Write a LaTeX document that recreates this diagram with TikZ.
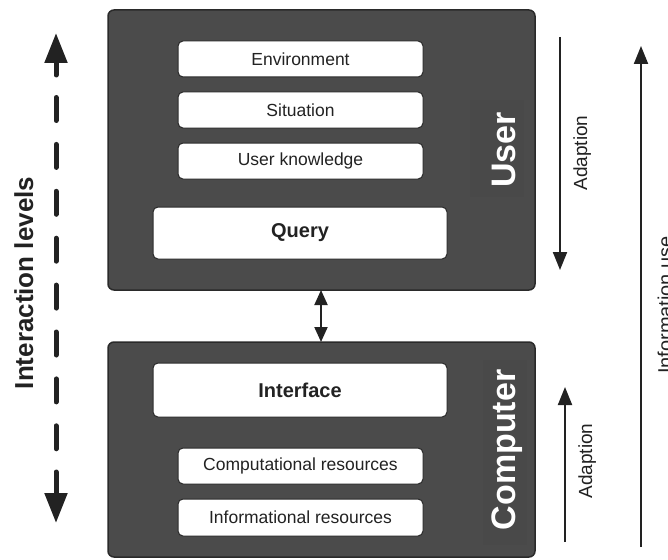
\documentclass[tikz,border=0pt]{standalone}
\usepackage{fontspec}
\setmainfont{Liberation Sans}
\usetikzlibrary{arrows.meta}
\definecolor{boxgray}{HTML}{4B4B4B}
\definecolor{labelgray}{HTML}{494949}
\definecolor{edgegray}{HTML}{2A2A2A}
\definecolor{inkc}{HTML}{222222}
\tikzset{
  bigbox/.style={draw=edgegray, fill=boxgray, line width=1.5pt, rounded corners=6pt, inner sep=0pt},
  itembox/.style={draw=edgegray, fill=white, line width=1pt, rounded corners=5pt, inner sep=0pt,
    font=\fontsize{17.5}{20}\selectfont, text=inkc},
  bolditem/.style={itembox, font=\fontsize{20}{24}\selectfont\bfseries},
  sidelabel/.style={rotate=90, anchor=base, inner sep=0pt, text=white,
    font=\fontsize{34}{40}\selectfont\bfseries},
  arrowlabel/.style={rotate=90, anchor=base, inner sep=0pt, text=inkc,
    font=\fontsize{19}{22}\selectfont},
  thinarrow/.style={draw=inkc, line width=2pt, -{Triangle[length=18pt,width=14pt]}},
  midarrow/.style={draw=inkc, line width=2pt, {Triangle[length=15pt,width=13pt]}-{Triangle[length=15pt,width=13pt]}},
  fatarrow/.style={draw=inkc, line width=5pt, line cap=round, -{Triangle[length=30pt,width=22pt]}},
  fatdash/.style={draw=inkc, line width=5pt, line cap=round, dash pattern=on 23pt off 23.9pt},
}
\begin{document}
\begin{tikzpicture}[x=1pt,y=-1pt]
\useasboundingbox (0,0) rectangle (668,559);
% big boxes
\node[bigbox, minimum width=427pt, minimum height=280pt] (user) at (321.5,150) {};
\node[bigbox, minimum width=427pt, minimum height=215pt] (comp) at (321.5,449.5) {};
% subtle label backgrounds
\fill[labelgray] (470,100) rectangle (524,197);
\fill[labelgray] (483,360) rectangle (527,545);
% user items
\node[itembox, minimum width=245pt, minimum height=36pt] (env) at (300.5,59) {Environment};
\node[itembox, minimum width=245pt, minimum height=36pt] (sit) at (300.5,110) {Situation};
\node[itembox, minimum width=245pt, minimum height=36pt] (know) at (300.5,161) {User knowledge};
\node[bolditem, minimum width=294pt, minimum height=52pt] (query) at (300,233) {Query};
% computer items
\node[bolditem, minimum width=294pt, minimum height=54pt] (iface) at (300,390) {Interface};
\node[itembox, minimum width=245pt, minimum height=36pt] (compres) at (300.5,466) {Computational resources};
\node[itembox, minimum width=245pt, minimum height=37pt] (infres) at (300.5,517.5) {Informational resources};
% side labels
\node[sidelabel] (userlbl) at (515,150) {User};
\node[sidelabel] (complbl) at (515,450) {Computer};
% middle double arrow
\coordinate (ma) at (321,290);
\coordinate (mb) at (321,342);
\draw[midarrow] (ma) -- (mb);
% adaption arrows
\coordinate (a1s) at (560,37);
\coordinate (a1e) at (560,270);
\draw[thinarrow] (a1s) -- (a1e);
\node[arrowlabel] (ad1) at (587,153) {Adaption};
\coordinate (a2s) at (565,542);
\coordinate (a2e) at (565,387);
\draw[thinarrow] (a2s) -- (a2e);
\node[arrowlabel] (ad2) at (592,461) {Adaption};
% information use
\coordinate (is) at (641,547);
\coordinate (ie) at (641,46);
\draw[thinarrow] (is) -- (ie);
\node[arrowlabel, font=\fontsize{20}{24}\selectfont] (infl) at (672,305) {Information use};
% interaction levels dashed arrow
\coordinate (dtopa) at (56,75);
\coordinate (dtop) at (56,33);
\coordinate (dbota) at (56,472);
\coordinate (dbot) at (56,523);
\coordinate (dd1) at (56,97.5);
\coordinate (dd2) at (56,449.5);
\draw[fatarrow] (dtopa) -- (dtop);
\draw[fatarrow] (dbota) -- (dbot);
\draw[fatdash] (dd1) -- (dd2);
\node[arrowlabel, font=\fontsize{26}{30}\selectfont\bfseries] (ilev) at (33,283) {Interaction levels};
\end{tikzpicture}
\end{document}
